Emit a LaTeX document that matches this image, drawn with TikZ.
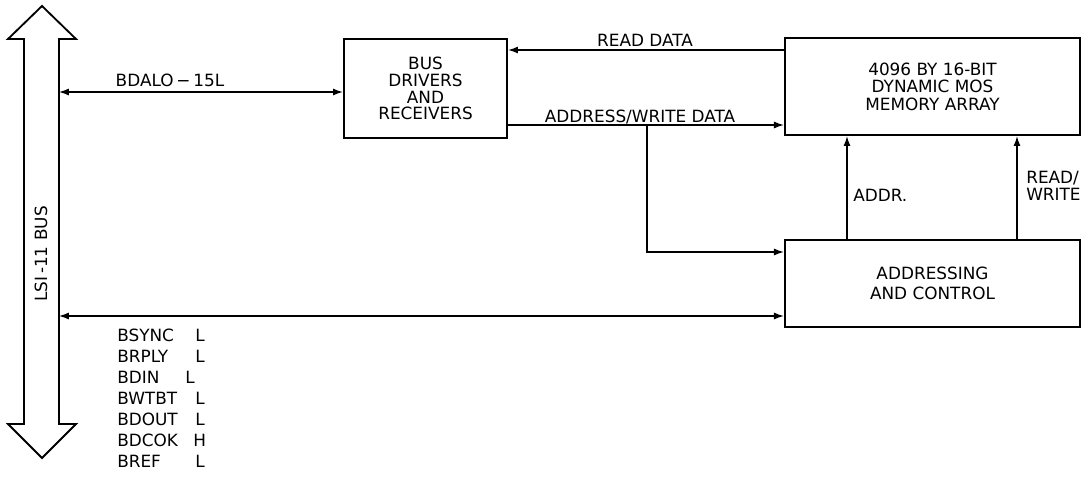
\documentclass[tikz,border=0pt]{standalone}
\usepackage{fontspec}
\setmainfont{DejaVu Sans}
\usepackage{tikz}
\usetikzlibrary{calc}
\usetikzlibrary{positioning, arrows.meta}

\tikzset{
  blk/.style={draw, line width=1.6pt, align=center, inner sep=2pt,
    font=\fontsize{12}{12}\selectfont},
  sig/.style={line width=0.9pt, >={Latex[length=7pt,width=5pt]}},
  lbl/.style={inner sep=0pt, font=\fontsize{12}{12}\selectfont}
}

\begin{document}
\begin{tikzpicture}[x=0.025cm, y=-0.025cm]
        \useasboundingbox (0,0) rectangle (1088,476);

        % Define nodes
        \node[blk, minimum width=4.075cm, minimum height=2.475cm] (drv) at (425.5,88.5)
            {BUS\\DRIVERS\\AND\\RECEIVERS};
        \node[blk, minimum width=7.375cm, minimum height=2.425cm,
              font=\fontsize{12}{12.5}\selectfont] (mem) at (932.5,86.5)
            {4096 BY 16-BIT\\DYNAMIC MOS\\MEMORY ARRAY};
        \node[blk, minimum width=7.375cm, minimum height=2.175cm,
              font=\fontsize{12}{14}\selectfont] (ctrl) at (932.5,283.5)
            {ADDRESSING\\AND CONTROL};

        % LSI-11 bus
        \draw[line width=1.3pt, line join=miter]
            (24,39) -- (8,39) -- (42,6) -- (76,39) -- (59,39) --
            (59,424) -- (76,424) -- (42,458) -- (8,424) -- (24,424) -- cycle;
        \node[lbl, rotate=90] (lsi) at (41,254) {LSI\,-11 BUS};
        \coordinate (busA) at (59,92);
        \coordinate (busB) at (59,316);

        % helper coordinates
        \coordinate (rdy) at (0,50);
        \coordinate (awy) at (0,125);
        \coordinate (brx) at (647,0);
        \coordinate (bry) at (0,252);
        \coordinate (ax) at (847,0);
        \coordinate (rwx) at (1017,0);

        % Draw edges
        \draw[sig, <->] (busA) -- (drv.west |- busA);
        \draw[sig, ->] (mem.west |- rdy) -- (drv.east |- rdy);
        \draw[sig, ->] (drv.east |- awy) -- (mem.west |- awy);
        \draw[sig, ->] (brx |- awy) -- (brx |- bry) -- (ctrl.west |- bry);
        \draw[sig, <->] (busB) -- (ctrl.west |- busB);
        \draw[sig, ->] (ctrl.north -| ax) -- (mem.south -| ax);
        \draw[sig, ->] (ctrl.north -| rwx) -- (mem.south -| rwx);

        % Edge labels
        \node[lbl] (bdal) at (170,80) {BDALO\,−\,15L};
        \node[lbl] (rd) at (645,40) {READ DATA};
        \node[lbl] (awd) at (640,117) {ADDRESS/WRITE DATA};
        \node[lbl, anchor=west] (addr) at (853,195) {ADDR.};
        \node[lbl, anchor=west, align=left] (rw) at (1026,186) {READ/\\WRITE};

        % Control signals
        \foreach \nm/\lv/\lx/\i in {BSYNC/L/195/1, BRPLY/L/195/2, BDIN/L/185/3,
                                    BWTBT/L/195/4, BDOUT/L/195/5, BDCOK/H/193/6, BREF/L/195/7} {
            \node[lbl, anchor=west] (sn\i) at (117,314+21*\i) {\nm};
            \node[lbl, anchor=west] (sl\i) at (\lx,314+21*\i) {\lv};
        }
    \end{tikzpicture}
\end{document}
